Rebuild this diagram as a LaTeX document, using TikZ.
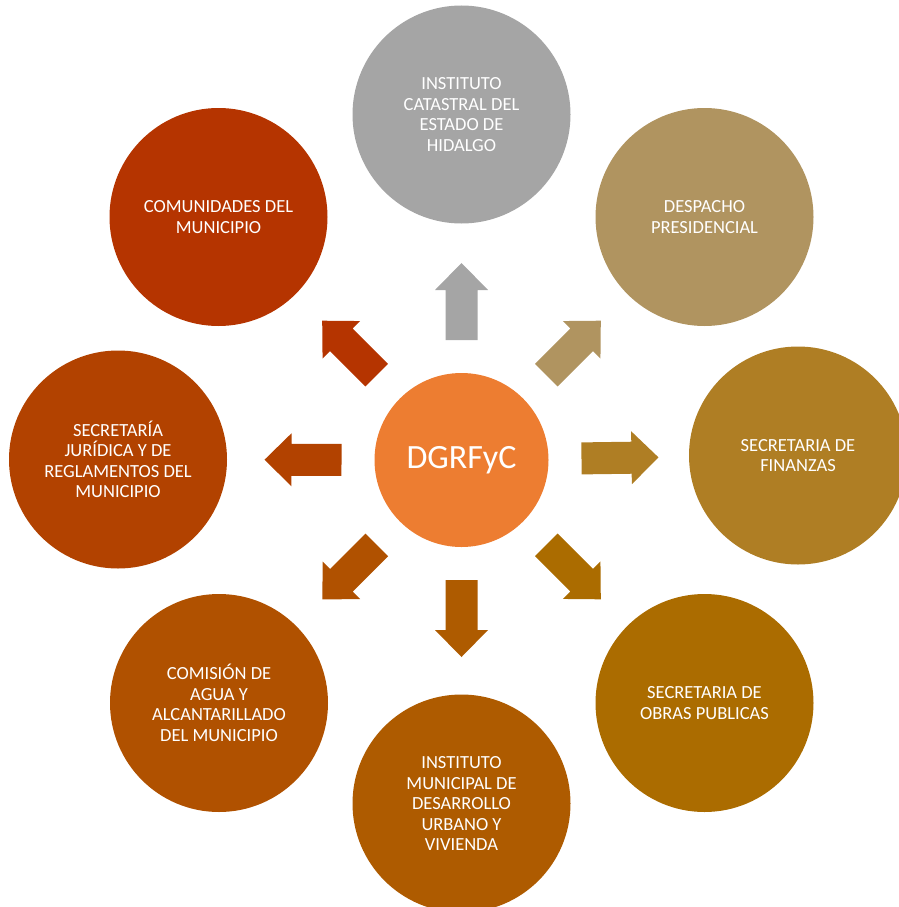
\documentclass[tikz,border=0pt]{standalone}
\usepackage{fontspec}
\setmainfont{Carlito}
\usepackage{tikz}
\usetikzlibrary{calc}
\definecolor{centro}{HTML}{ED7D31}
\definecolor{gris}{HTML}{A5A5A5}
\definecolor{arena}{HTML}{B09460}
\definecolor{ocre}{HTML}{AF7E24}
\definecolor{mostaza}{HTML}{AB6C00}
\definecolor{canela}{HTML}{AE5B00}
\definecolor{cobre}{HTML}{B05100}
\definecolor{oxido}{HTML}{B24200}
\definecolor{ladrillo}{HTML}{B53400}

\begin{document}
\begin{tikzpicture}[x=1pt, y=-1pt,
        every circle node/.append style={inner sep=0pt, text=white, align=center},
        blockarrow/.style={to path={
          ($(\tikztostart)!120pt!(\tikztotarget)!16pt!90:(\tikztostart)$) --
          ($(\tikztostart)!170pt!(\tikztotarget)!16pt!90:(\tikztostart)$) --
          ($(\tikztostart)!170pt!(\tikztotarget)!26.5pt!90:(\tikztostart)$) --
          ($(\tikztostart)!197pt!(\tikztotarget)$) --
          ($(\tikztostart)!170pt!(\tikztotarget)!26.5pt!-90:(\tikztostart)$) --
          ($(\tikztostart)!170pt!(\tikztotarget)!16pt!-90:(\tikztostart)$) --
          ($(\tikztostart)!120pt!(\tikztotarget)!16pt!-90:(\tikztostart)$) -- cycle}}]
      \tikzstyle{dept} = [circle, minimum size=218pt, font=\fontsize{18.5}{20.5}\selectfont]
      \useasboundingbox (0,0) rectangle (898,907);
      \node (DGRFyC) [circle, minimum size=174pt, fill=centro, font=\fontsize{34}{40}\selectfont] at (461.5,460) {DGRFyC};
      \node (instituto) [dept, fill=gris] at (461.5,114.5) {INSTITUTO\\CATASTRAL DEL\\ESTADO DE\\HIDALGO};
      \node (despacho) [dept, fill=arena] at (704.5,217) {DESPACHO\\PRESIDENCIAL};
      \node (finanzas) [dept, fill=ocre] at (798,455.5) {SECRETARIA DE\\FINANZAS};
      \node (obras) [dept, fill=mostaza] at (704.5,703) {SECRETARIA DE\\OBRAS PUBLICAS};
      \node (desarrollo) [dept, fill=canela] at (461.5,803.5) {INSTITUTO\\MUNICIPAL DE\\DESARROLLO\\URBANO Y\\VIVIENDA};
      \node (comision) [dept, fill=cobre] at (219,703) {COMISIÓN DE\\AGUA Y\\ALCANTARILLADO\\DEL MUNICIPIO};
      \node (juridica) [dept, fill=oxido] at (118,459.5) {SECRETARÍA\\JURÍDICA Y DE\\REGLAMENTOS DEL\\MUNICIPIO};
      \node (comunidades) [dept, fill=ladrillo] at (218.5,217) {COMUNIDADES DEL\\MUNICIPIO};
      \fill[gris] (DGRFyC) to[blockarrow] (instituto);
      \fill[arena] (DGRFyC) to[blockarrow] (despacho);
      \fill[ocre] (DGRFyC) to[blockarrow] (finanzas);
      \fill[mostaza] (DGRFyC) to[blockarrow] (obras);
      \fill[canela] (DGRFyC) to[blockarrow] (desarrollo);
      \fill[cobre] (DGRFyC) to[blockarrow] (comision);
      \fill[oxido] (DGRFyC) to[blockarrow] (juridica);
      \fill[ladrillo] (DGRFyC) to[blockarrow] (comunidades);
    \end{tikzpicture}
\end{document}
